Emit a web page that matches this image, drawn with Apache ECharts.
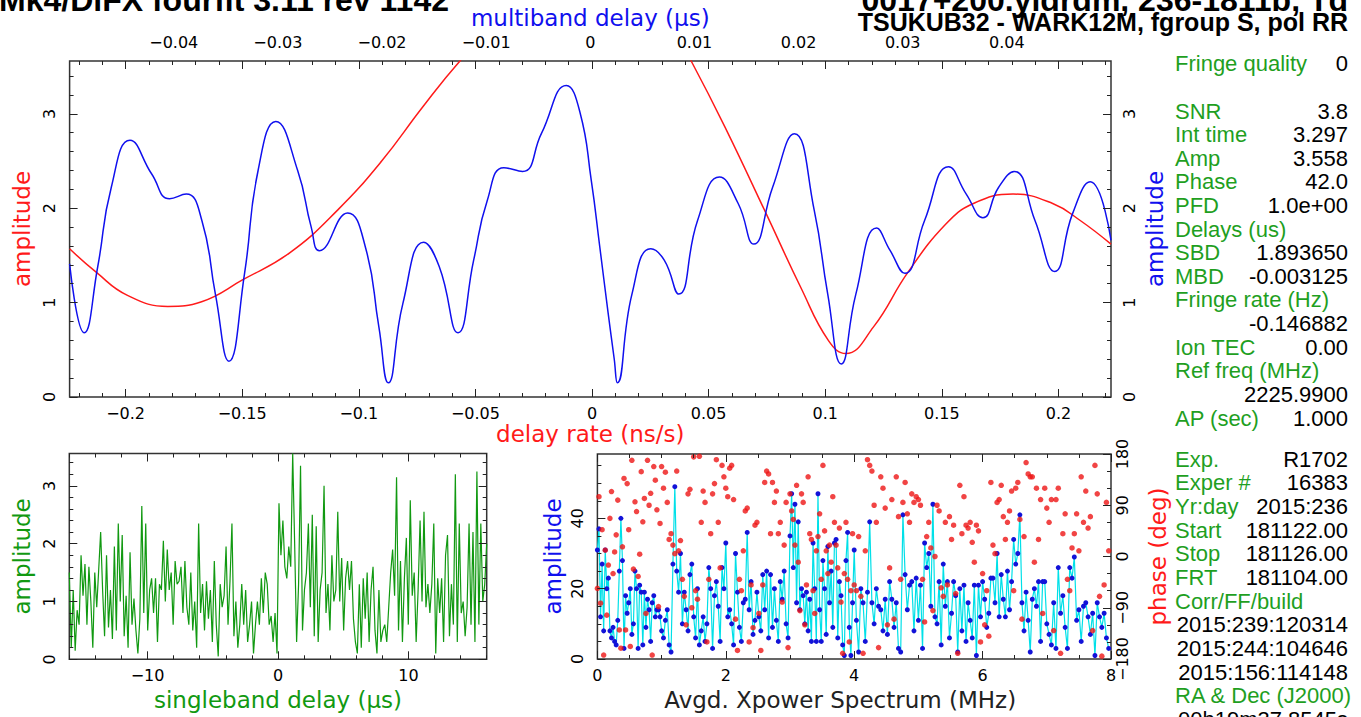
<!DOCTYPE html>
<html><head><meta charset="utf-8">
<script src="https://cdn.jsdelivr.net/npm/echarts@6/dist/echarts.min.js"></script>
<style>html,body{margin:0;padding:0;background:#fff}#c{width:1361px;height:717px}</style>
</head><body><div id="c"></div>
<script>
// ---------------- data ----------------
const rateTicks = [-0.2,-0.15,-0.1,-0.05,0,0.05,0.1,0.15,0.2];
const mbdTicks = [-0.04,-0.03,-0.02,-0.01,0,0.01,0.02,0.03,0.04];
const ampTicks = [0,1,2,3];
const sbdTicks = [-10,0,10];
const specTicks = [0,2,4,6,8];
const specAmpTicks = [0,20,40];
const phaseTicks = [-180,-90,0,90,180];

// delay-rate amplitude (red)
const rateX = [-0.2240,-0.2125,-0.1994,-0.1819,-0.1674,-0.1499,-0.1295,-0.1091,-0.0902,-0.0727,-0.0570,-0.0395,-0.0223,-0.0052,0.0120,0.0292,0.0425,0.0570,0.0747,0.0895,0.1013,0.1088,0.1206,0.1354,0.1516,0.1635,0.1805,0.1975,0.2093,0.2225];
const rateAmp = [1.57,1.32,1.08,0.96,1.01,1.24,1.53,1.98,2.50,3.07,3.55,4.00,4.35,4.50,4.45,4.15,3.56,2.86,1.94,1.16,0.60,0.46,0.74,1.32,1.83,2.05,2.15,2.05,1.87,1.62];

// multiband-delay amplitude (blue)
const mbdX = [-0.0500,-0.0486,-0.0473,-0.0460,-0.0442,-0.0421,-0.0404,-0.0388,-0.0373,-0.0360,-0.0347,-0.0332,-0.0319,-0.0302,-0.0281,-0.0268,-0.0260,-0.0233,-0.0216,-0.0203,-0.0194,-0.0180,-0.0160,-0.0145,-0.0127,-0.0112,-0.0099,-0.0083,-0.0065,-0.0047,-0.0023,-0.0010,0.0001,0.0009,0.0017,0.0023,0.0026,0.0040,0.0058,0.0071,0.0085,0.0103,0.0124,0.0142,0.0157,0.0175,0.0196,0.0215,0.0228,0.0241,0.0255,0.0275,0.0288,0.0302,0.0321,0.0344,0.0361,0.0377,0.0392,0.0407,0.0427,0.0446,0.0463,0.0480,0.0500];
const mbdAmp = [1.41,0.68,1.38,2.22,2.72,2.36,2.10,2.15,1.87,1.09,0.38,1.31,2.40,2.92,2.40,1.80,1.55,1.95,1.59,0.74,0.15,0.99,1.64,1.38,0.68,1.45,2.08,2.43,2.39,2.79,3.30,3.02,2.29,1.60,0.90,0.40,0.15,1.09,1.57,1.45,1.09,1.87,2.33,2.05,1.62,2.22,2.79,1.98,1.09,0.35,1.09,1.79,1.55,1.31,1.87,2.44,2.15,1.90,2.22,2.39,1.87,1.33,1.94,2.28,1.66];

// singleband-delay amplitude (green), evenly sampled over the window
const sbdRange = [-16, 16];
const sbdAmp = [1.5,0.2,1.2,0.15,0.85,0.6,1.8,1.1,1.65,0.6,1.6,1.0,0.2,1.5,0.9,1.55,2.2,1.2,0.4,1.8,0.55,1.2,0.35,1.95,0.5,2.35,1.0,2.15,0.4,1.1,0.2,1.85,0.6,1.05,0.5,0.1,0.7,2.65,0.8,2.35,0.5,1.2,1.4,0.8,1.4,0.3,1.3,1.2,2.05,1.0,1.9,1.2,1.5,0.6,1.7,1.3,1.35,1.6,0.8,1.7,0.9,0.6,1.5,0.5,1.0,0.2,2.35,0.8,1.3,0.5,1.35,0.7,1.2,0.3,1.7,0.6,0.05,1.3,0.9,1.1,1.95,0.6,1.35,2.35,0.4,1.0,0.2,0.6,1.3,0.6,1.2,0.3,0.6,1.0,0.1,0.6,1.0,0.6,1.4,0.8,1.5,1.3,0.6,0.75,0.3,0.8,0.1,2.7,1.8,2.4,1.6,1.4,1.95,1.6,3.56,2.0,0.3,1.3,3.35,0.5,1.2,1.5,2.35,0.9,2.5,0.4,2.3,0.3,1.2,1.5,3.0,0.8,1.3,0.5,1.8,1.0,1.2,2.55,1.0,1.75,0.5,1.4,1.7,1.2,1.7,0.7,0.3,0.1,1.3,0.2,1.4,0.7,1.5,0.3,1.2,1.6,0.5,0.1,1.2,0.3,0.5,0.6,0.3,0.9,1.5,1.9,1.1,3.15,0.5,1.7,0.3,1.4,2.1,0.6,2.75,1.1,1.5,0.3,1.2,2.4,1.0,2.55,0.9,1.3,0.8,1.3,2.35,0.1,1.4,0.8,1.4,0.3,1.8,2.15,0.4,1.3,0.6,3.2,0.3,2.35,0.8,1.0,0.4,0.9,2.35,0.6,2.2,0.3,3.25,0.6,2.35,1.0,1.3,2.0];

// cross-power spectrum, one list per MHz
const specAmp = [
 [31,37,12,27,8,31,20,23,8,6,9,5,4,11,25,40,28,3,18,13,16,20,7,10,25,20,3,21,19,4,19,9,17,14,5,16,18,12,14,14,12],
 [8,6,11,14,4,2,27,49,25,19,30,10,19,14,8,24,27,12,6,20,4,8,12,5,10,26,20,3,18,22,15,5,26,20],
 [33,12,14,10,4,30,19,9,5,16,17,36,14,22,7,11,19,12,8,24,14,25,6,24,9,20,11,5,22,17,25,10,6],
 [35,47,26,44,16,39,14,20,18,10,19,8,17,5,33,20,5,47,14,5,28,20,7,32,16,25,9,33,34,6,22,18,4,1,28,36,9,1,16],
 [31,11,2,20,16,5,19,39,16,10,20,15,14,8,17,7,22,17,9,16,3,2,41,24,14,21,22,8,23],
 [11,21,3,33,26,30,15,44,12,10,22,4,27,15,22,6,13,22,18,2,20,8,21,5,16,11,6,21,1,21,12],
 [22,17,9,13,23,23,16,30,12,24,17,12,25,14,22,34,27,30,41,16,8,19,11,2,17,20,15,22,5,22,22],
 [10,7,4,16,3,26,13,18,9,3,26,23,29,11,14,5,15,16,12,7,13,1,16,12,9,13,6,3]
];
const specPhase = [
 [-56,105,-82,47,-173,11,-103,-15,67,114,-30,8,38,99,-129,-161,17,137,-129,128,47,-158,169,-22,96,79,-35,4,149,61,102,-100,169,90,111,-173,158,134,82,-88,58],
 [158,120,148,95,30,40,20,5,150,10,28,-40,-70,-120,110,118,-90,175,-60,-75,176,60,115,95,-150,-40,40,110,128,170,60,-20,160,140],
 [120,105,155,160,100,-110,-165,-40,-60,10,80,85,-150,-50,-125,55,60,-100,-165,-50,130,150,145,40,130,95,115,40,60,-80,20,95,-160],
 [110,80,65,20,125,-10,-95,110,95,-120,-50,140,40,30,-60,-100,10,35,75,-40,160,45,10,-30,20,-10,105,60,20,-20,50,-80,-170,-30,60,-40,-150,-60,40],
 [-50,-60,35,-70,-170,10,170,160,150,90,60,-160,140,120,85,-120,-20,100,-110,140,70,-40,95,130,75,60,110,95,105],
 [100,90,-40,-115,35,60,15,-95,0,90,80,-55,-70,60,-50,70,30,55,-65,-170,125,40,105,55,50,60,25,-10,55,45,-150],
 [-30,-120,-60,-140,130,20,5,95,100,125,70,30,60,80,115,-60,120,130,65,-110,35,165,145,140,140,-10,120,30,100,-100,120],
 [85,60,100,-130,100,120,-170,40,75,-40,-60,15,40,75,10,140,60,115,50,70,-130,160,110,-70,-175,-50,95,10]
];

const headerLeft = "Mk4/DiFX fourfit 3.11 rev 1142";
const headerRight1 = "0017+200.yldrdm, 236-1811b, Td";
const headerRight2 = "TSUKUB32 - WARK12M, fgroup S, pol RR";
const infoQuality = [["Fringe quality","0"]];
const infoFit = [["SNR","3.8"],["Int time","3.297"],["Amp","3.558"],["Phase","42.0"],["PFD","1.0e+00"],["Delays (us)",""],["SBD","1.893650"],["MBD","-0.003125"],["Fringe rate (Hz)",""],["","-0.146882"],["Ion TEC","0.00"],["Ref freq (MHz)",""],["","2225.9900"],["AP (sec)","1.000"]];
const infoExp = [["Exp.","R1702"],["Exper #","16383"],["Yr:day","2015:236"],["Start","181122.00"],["Stop","181126.00"],["FRT","181104.00"],["Corr/FF/build",""],["","2015:239:120314"],["","2015:244:104646"],["","2015:156:114148"],["RA & Dec (J2000)",""],["","00h19m37.8545s"]];

// ---------------- layout / style ----------------
const RATE_MIN=-0.224, RATE_MAX=0.2225, MBD_MIN=-0.05, MBD_MAX=0.05, AMP_MAX=3.56;
const SPEC_AMP_MAX=58.3;
const RED='#ff1a1a', BLUE='#1010ee', GREEN='#119911', TXTGREEN='#1f9f1f', CYAN='#00e0e8';
const AXC='#222';
const FONT='DejaVu Sans';
const NAMESIZE=23;

function fmt(v){ let s=String(Math.round(v*1e6)/1e6); return s.replace('-','\u2212'); }
function minor(min,max,step,major){
  const out=[];
  const k0=Math.ceil(min/step-1e-9);
  for(let k=k0; k*step<=max+1e-9; k++){ const v=Math.round(k*step*1e6)/1e6; if(!major.some(m=>Math.abs(m-v)<1e-9)) out.push(v); }
  return out;
}
function ax(o){
  const a={
    type:'value', gridIndex:o.grid, position:o.pos, min:o.min, max:o.max,
    axisLine:{show:false,onZero:false}, splitLine:{show:false},
    axisTick:{show:!!o.len, inside:true, length:o.len||0, customValues:o.ticks, lineStyle:{color:AXC,width:1}},
    axisLabel:{show:!!o.labels, customValues:o.labels||o.ticks, formatter:fmt, color:'#000',
      fontFamily:FONT, fontSize:16, margin:o.margin||8, rotate:o.rotate||0, hideOverlap:false,
      showMinLabel:true, showMaxLabel:true},
    silent:true, z:5
  };
  if(o.name){
    a.name=o.name; a.nameLocation='middle'; a.nameGap=o.nameGap; a.nameMoveOverlap=false;
    if(o.nameRotate!==undefined) a.nameRotate=o.nameRotate;
    a.nameTextStyle={color:o.nameColor, fontFamily:FONT, fontSize:NAMESIZE};
    if(o.namePad) a.nameTextStyle.padding=o.namePad;
  }
  return a;
}
const ampMinor = minor(0, AMP_MAX, 0.2, ampTicks);
const rateMinor = minor(RATE_MIN, RATE_MAX, 0.01, rateTicks);
const sbdMinor = minor(-16, 16, 2, sbdTicks);
const specMinor = minor(0, 8, 0.5, specTicks);
const specAmpMinor = minor(0, SPEC_AMP_MAX, 5, specAmpTicks);
const phaseMinor = minor(-180, 180, 30, phaseTicks);

const grids=[
  {left:69.6, top:61, width:1041.4, height:336},
  {left:69.3, top:453.5, width:417.4, height:205.8},
  {left:597.4, top:454, width:513.6, height:205}
].map(g=>Object.assign(g,{show:true, borderColor:'#333', borderWidth:1.5, backgroundColor:'transparent', containLabel:false, outerBoundsMode:'none'}));

const xAxes=[
  ax({grid:0,pos:'bottom',min:RATE_MIN,max:RATE_MAX,ticks:rateTicks,len:8,labels:rateTicks,margin:8,name:'delay rate (ns/s)',nameColor:RED,nameGap:25}), //0
  ax({grid:0,pos:'bottom',min:RATE_MIN,max:RATE_MAX,ticks:rateMinor,len:4}), //1
  ax({grid:0,pos:'top',min:RATE_MIN,max:RATE_MAX,ticks:rateTicks,len:8}), //2
  ax({grid:0,pos:'top',min:RATE_MIN,max:RATE_MAX,ticks:rateMinor,len:4}), //3
  ax({grid:0,pos:'top',min:MBD_MIN,max:MBD_MAX,ticks:mbdTicks,len:0,labels:mbdTicks,margin:11,name:'multiband delay (\u03bcs)',nameColor:BLUE,nameGap:32}), //4
  ax({grid:1,pos:'bottom',min:sbdRange[0],max:sbdRange[1],ticks:sbdTicks,len:8,labels:sbdTicks,margin:8,name:'singleband delay (\u03bcs)',nameColor:GREEN,nameGap:29}), //5
  ax({grid:1,pos:'bottom',min:sbdRange[0],max:sbdRange[1],ticks:sbdMinor,len:4}), //6
  ax({grid:1,pos:'top',min:sbdRange[0],max:sbdRange[1],ticks:sbdTicks,len:8}), //7
  ax({grid:1,pos:'top',min:sbdRange[0],max:sbdRange[1],ticks:sbdMinor,len:4}), //8
  ax({grid:2,pos:'bottom',min:0,max:8,ticks:specTicks,len:8,labels:specTicks,margin:8,name:'Avgd. Xpower Spectrum (MHz)',nameColor:'#222',nameGap:29,namePad:[0,28,0,0]}), //9
  ax({grid:2,pos:'bottom',min:0,max:8,ticks:specMinor,len:4}), //10
  ax({grid:2,pos:'top',min:0,max:8,ticks:specTicks,len:8}), //11
  ax({grid:2,pos:'top',min:0,max:8,ticks:specMinor,len:4}) //12
];
const yAxes=[
  ax({grid:0,pos:'left',min:0,max:AMP_MAX,ticks:ampTicks,len:8,labels:ampTicks,margin:12,rotate:90,name:'amplitude',nameColor:RED,nameGap:36,nameRotate:90}), //0
  ax({grid:0,pos:'left',min:0,max:AMP_MAX,ticks:ampMinor,len:4}), //1
  ax({grid:0,pos:'right',min:0,max:AMP_MAX,ticks:ampTicks,len:8,labels:ampTicks,margin:10,rotate:90,name:'amplitude',nameColor:BLUE,nameGap:32.5,nameRotate:90}), //2
  ax({grid:0,pos:'right',min:0,max:AMP_MAX,ticks:ampMinor,len:4}), //3
  ax({grid:1,pos:'left',min:0,max:AMP_MAX,ticks:ampTicks,len:8,labels:ampTicks,margin:12,rotate:90,name:'amplitude',nameColor:GREEN,nameGap:36,nameRotate:90}), //4
  ax({grid:1,pos:'left',min:0,max:AMP_MAX,ticks:ampMinor,len:4}), //5
  ax({grid:1,pos:'right',min:0,max:AMP_MAX,ticks:ampTicks,len:8}), //6
  ax({grid:1,pos:'right',min:0,max:AMP_MAX,ticks:ampMinor,len:4}), //7
  ax({grid:2,pos:'left',min:0,max:SPEC_AMP_MAX,ticks:specAmpTicks,len:8,labels:specAmpTicks,margin:12,rotate:90,name:'amplitude',nameColor:BLUE,nameGap:33,nameRotate:90}), //8
  ax({grid:2,pos:'left',min:0,max:SPEC_AMP_MAX,ticks:specAmpMinor,len:4}), //9
  ax({grid:2,pos:'right',min:-180,max:180,ticks:phaseTicks,len:8,labels:phaseTicks,margin:3,rotate:90,name:'phase (deg)',nameColor:RED,nameGap:35.5,nameRotate:90}), //10
  ax({grid:2,pos:'right',min:-180,max:180,ticks:phaseMinor,len:4}) //11
];

// series data built from the arrays
const rateData = rateX.map((x,i)=>[x, rateAmp[i]]);
const mbdData = mbdX.map((x,i)=>[x, mbdAmp[i]]);
const sbdStep = (sbdRange[1]-sbdRange[0])/(sbdAmp.length-1);
const sbdData = sbdAmp.map((v,i)=>[sbdRange[0]+i*sbdStep, v]);
const specAmpData=[], specPhaseData=[];
specAmp.forEach((seg,k)=>seg.forEach((v,j)=>{
  const f = k + j/seg.length;
  specAmpData.push([f, v]);
  specPhaseData.push([f, specPhase[k][j]]);
}));

const series=[
  {type:'line', xAxisIndex:0, yAxisIndex:0, data:rateData, smooth:0.45, showSymbol:false, clip:true,
   lineStyle:{color:RED,width:1.5}, silent:true, z:3},
  {type:'line', xAxisIndex:4, yAxisIndex:0, data:mbdData, smooth:0.5, showSymbol:false, clip:true,
   lineStyle:{color:BLUE,width:1.5}, silent:true, z:4},
  {type:'line', xAxisIndex:5, yAxisIndex:4, data:sbdData, showSymbol:false, clip:true,
   lineStyle:{color:GREEN,width:1.2}, silent:true},
  {type:'line', xAxisIndex:9, yAxisIndex:8, data:specAmpData, symbol:'circle', symbolSize:5, showSymbol:true, clip:true,
   lineStyle:{color:CYAN,width:1.2}, itemStyle:{color:'#1212d8',borderWidth:0}, silent:true, z:2},
  {type:'scatter', xAxisIndex:9, yAxisIndex:10, data:specPhaseData, symbol:'circle', symbolSize:5.5,
   itemStyle:{color:'#ee1515'}, silent:true, z:3}
];

// text panel
const graphics=[];
const LBLX=1175, VALX=1348;
function row(lbl,val,y){
  if(lbl) graphics.push({type:'text', x:LBLX, y:y, style:{text:lbl, fill:TXTGREEN, font:'22px "Liberation Sans"', align:'left', verticalAlign:'middle'}});
  if(val) graphics.push({type:'text', x:VALX, y:y, style:{text:val, fill:'#000', font:'22px "Liberation Sans"', align:'right', verticalAlign:'middle'}});
}
infoQuality.forEach((r,i)=>row(r[0],r[1],63.3+i*23.62));
infoFit.forEach((r,i)=>row(r[0],r[1],111+i*23.62));
infoExp.forEach((r,i)=>row(r[0],r[1],459.3+i*23.65));
graphics.push({type:'text', x:-1, y:0, style:{text:headerLeft, fill:'#000', font:'bold 32px "Liberation Sans"', align:'left', verticalAlign:'middle'}});
graphics.push({type:'text', x:VALX, y:0, style:{text:headerRight1, fill:'#000', font:'bold 32px "Liberation Sans"', align:'right', verticalAlign:'middle'}});
graphics.push({type:'text', x:VALX, y:22, style:{text:headerRight2, fill:'#000', font:'bold 25px "Liberation Sans"', align:'right', verticalAlign:'middle'}});

const chart = echarts.init(document.getElementById('c'), null, {renderer:'svg', width:1361, height:717});
chart.setOption({
  animation:false, backgroundColor:'#fff',
  grid:grids, xAxis:xAxes, yAxis:yAxes, series:series, graphic:graphics
});
</script></body></html>
